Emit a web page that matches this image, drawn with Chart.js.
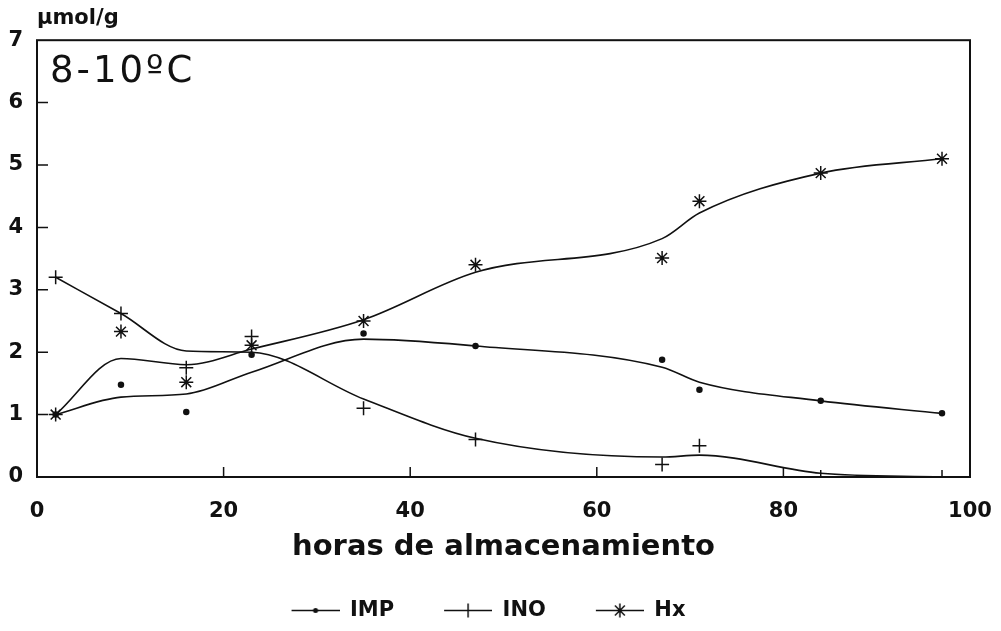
<!DOCTYPE html>
<html>
<head>
<meta charset="utf-8">
<script src="https://cdn.jsdelivr.net/npm/chart.js@4.4.1/dist/chart.umd.min.js"></script>
<style>
  html, body { margin: 0; padding: 0; background: #fff; }
  canvas { display: block; }
</style>
</head>
<body>
<canvas id="chart" width="1001" height="631"></canvas>
<script>
// storage time (hours)
const hours = [2, 9, 16, 23, 35, 47, 67, 71, 84, 97];

// measured values, µmol/g
const imp = [1.0, 1.48, 1.04, 1.96, 2.3, 2.1, 1.88, 1.4, 1.22, 1.02];
const ino = [3.2, 2.62, 1.75, 2.25, 1.1, 0.6, 0.2, 0.5, 0.0, 0.0];
const hx = [1.0, 2.33, 1.52, 2.11, 2.5, 3.4, 3.51, 4.42, 4.87, 5.1];

// smoothed fit for each compound at the same hours
const impFit = [1.0, 1.28, 1.33, 1.68, 2.21, 2.1, 1.76, 1.52, 1.22, 1.02];
const inoFit = [3.2, 2.62, 2.02, 2.0, 1.25, 0.62, 0.32, 0.35, 0.06, 0.0];
const hxFit = [1.0, 1.9, 1.8, 2.05, 2.52, 3.28, 3.82, 4.23, 4.87, 5.1];

const seriesNames = ['IMP', 'INO', 'Hx'];
const xTicks = [0, 20, 40, 60, 80, 100];
const yTicks = [0, 1, 2, 3, 4, 5, 6, 7];
const unitLabel = 'µmol/g';
const tempLabel = '8-10ºC';
const xTitle = 'horas de almacenamiento';

const ink = '#111';
Chart.defaults.font.family = '"DejaVu Sans", sans-serif';
Chart.defaults.color = ink;

const toXY = vals => hours.map((h, i) => ({ x: h, y: vals[i] }));

// little line-with-marker images for the legend
function legendSymbol(kind) {
  const c = document.createElement('canvas');
  c.width = 63; c.height = 21;
  const g = c.getContext('2d');
  g.strokeStyle = ink; g.fillStyle = ink; g.lineWidth = 1.5;
  g.beginPath();
  g.moveTo(15, 10.5); g.lineTo(63, 10.5);
  const cx = 39, cy = 10.5;
  if (kind === 'dot') {
    g.stroke();
    g.beginPath(); g.arc(cx, cy, 2.5, 0, Math.PI * 2); g.fill();
    return c;
  }
  if (kind === 'tick') {
    g.moveTo(cx, cy - 7); g.lineTo(cx, cy + 7);
  } else {
    for (let k = 0; k < 4; k++) {
      const a = k * Math.PI / 4;
      g.moveTo(cx - 7 * Math.cos(a), cy - 7 * Math.sin(a));
      g.lineTo(cx + 7 * Math.cos(a), cy + 7 * Math.sin(a));
    }
  }
  g.stroke();
  return c;
}
const legendImages = [legendSymbol('dot'), legendSymbol('tick'), legendSymbol('star')];

function curve(vals) {
  return {
    data: toXY(vals),
    borderColor: ink,
    borderWidth: 1.6,
    pointRadius: 0,
    cubicInterpolationMode: 'monotone',
    fill: false
  };
}

function marks(vals, style, radius) {
  return {
    data: toXY(vals),
    showLine: false,
    pointStyle: style,
    pointRadius: radius,
    pointBorderWidth: 1.5,
    pointBorderColor: ink,
    pointBackgroundColor: ink
  };
}

// box around the plot, inward ticks and the temperature tag
const framePlugin = {
  id: 'frame',
  afterLayout(chart) {
    // nudge the legend row a little to the left
    chart.legend.left -= 4;
    chart.legend.right -= 4;
  },
  afterDatasetsDraw(chart) {
    const { ctx, chartArea: a, scales: { x, y } } = chart;
    ctx.save();
    ctx.strokeStyle = ink;
    ctx.lineWidth = 2;
    ctx.strokeRect(a.left, a.top, a.right - a.left, a.bottom - a.top);
    ctx.lineWidth = 1.5;
    ctx.beginPath();
    y.ticks.forEach(t => {
      if (t.value <= y.min || t.value >= y.max) return;
      const py = y.getPixelForValue(t.value);
      ctx.moveTo(a.left, py); ctx.lineTo(a.left + 11, py);
    });
    x.ticks.forEach(t => {
      if (t.value <= x.min || t.value >= x.max) return;
      const px = x.getPixelForValue(t.value);
      ctx.moveTo(px, a.bottom); ctx.lineTo(px, a.bottom - 10);
    });
    ctx.stroke();
    ctx.fillStyle = ink;
    ctx.font = '37px "DejaVu Sans"';
    ctx.letterSpacing = '3px';
    ctx.textBaseline = 'alphabetic';
    ctx.fillText(tempLabel, a.left + 13, a.top + 42);
    ctx.restore();
  }
};

new Chart(document.getElementById('chart'), {
  type: 'line',
  data: {
    datasets: [
      curve(impFit), curve(inoFit), curve(hxFit),
      marks(imp, 'circle', 2.5), marks(ino, 'cross', 7), marks(hx, 'star', 7)
    ]
  },
  plugins: [framePlugin],
  options: {
    responsive: false,
    animation: false,
    layout: { padding: { left: 0, right: 31, top: 0, bottom: 0 } },
    plugins: {
      tooltip: { enabled: false },
      title: {
        display: true,
        text: unitLabel,
        align: 'start',
        fullSize: false,
        font: { size: 21, weight: 'bold' },
        padding: { top: 6, bottom: 9 }
      },
      legend: {
        position: 'bottom',
        labels: {
          usePointStyle: true,
          pointStyleWidth: 63,
          padding: 35,
          font: { size: 21, weight: 'bold' },
          generateLabels: () => seriesNames.map((name, i) => ({
            text: name,
            pointStyle: legendImages[i],
            fillStyle: ink,
            strokeStyle: ink,
            lineWidth: 0,
            fontColor: ink,
            hidden: false,
            datasetIndex: i
          }))
        }
      }
    },
    scales: {
      x: {
        type: 'linear',
        min: xTicks[0],
        max: xTicks[xTicks.length - 1],
        afterBuildTicks: s => { s.ticks = xTicks.map(v => ({ value: v })); },
        afterFit: s => { s.height = 88; s.paddingRight = 0; },
        grid: { display: false },
        border: { display: false },
        ticks: { padding: 14, font: { size: 21, weight: 'bold' }, maxRotation: 0 },
        title: {
          display: true,
          text: xTitle,
          font: { size: 29, weight: 'bold' },
          padding: { top: 0, bottom: 0 }
        }
      },
      y: {
        min: yTicks[0],
        max: yTicks[yTicks.length - 1],
        afterBuildTicks: s => { s.ticks = yTicks.map(v => ({ value: v })); },
        afterFit: s => { s.width = 37; },
        grid: { display: false },
        border: { display: false },
        ticks: { padding: 6, font: { size: 21, weight: 'bold' } }
      }
    }
  }
});
</script>
</body>
</html>
